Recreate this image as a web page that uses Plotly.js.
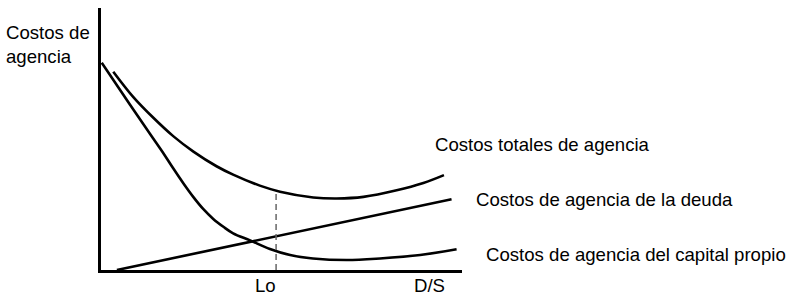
<!DOCTYPE html>
<html>
<head>
<meta charset="utf-8">
<script src="https://cdn.plot.ly/plotly-3.0.1.min.js"></script>
<style>html,body{margin:0;padding:0;background:#fff;}#chart{width:790px;height:297px;}</style>
</head>
<body>
<div id="chart"></div>
<script>
// Costos de agencia del capital propio (equity agency costs)
const equityX = [0.02, 0.80, 1.36, 1.75, 2.00, 2.28, 2.56, 2.83, 3.11, 3.39, 3.66, 4.13, 4.68, 5.24, 5.87, 6.81, 7.73, 8.84, 9.85];
const equityY = [7.91, 6.32, 5.19, 4.41, 3.88, 3.31, 2.78, 2.33, 1.95, 1.65, 1.40, 1.13, 0.80, 0.57, 0.44, 0.38, 0.44, 0.57, 0.79];
// Costos totales de agencia (total agency costs)
const totalX = [0.34, 0.89, 1.45, 2.00, 2.56, 3.20, 3.66, 4.40, 4.96, 5.88, 6.53, 7.27, 8.19, 8.93, 9.50];
const totalY = [7.57, 6.61, 5.81, 5.11, 4.52, 3.96, 3.64, 3.22, 2.99, 2.77, 2.73, 2.79, 3.04, 3.32, 3.62];
// Costos de agencia de la deuda (debt agency costs)
const debtX = [0.44, 9.71];
const debtY = [0.0, 2.70];
// Optimal leverage Lo
const optX = [4.85, 4.85];
const optY = [0, 3.03];
// Tick labels on the horizontal axis
const tickLabels = ['0', 'Lo', 'D/S'];
const tickPos = [-0.22, 4.55, 9.1];
// Curve labels (paper coordinates)
const curveLabels = ['Costos totales de agencia', 'Costos de agencia de la deuda', 'Costos de agencia del capital propio'];
const curveLabelX = [0.9195, 1.034, 1.061];
const curveLabelY = [4.79, 2.70, 0.61];
const yTitle = 'Costos de<br>agencia';

const font = {family: 'Liberation Sans, Arial, sans-serif', size: 18.6, color: '#000'};
const lineStyle = {color: '#000', width: 2.6, shape: 'spline', smoothing: 1};

const traces = [
  {x: equityX, y: equityY, mode: 'lines', line: lineStyle, hoverinfo: 'skip'},
  {x: totalX, y: totalY, mode: 'lines', line: lineStyle, hoverinfo: 'skip'},
  {x: debtX, y: debtY, mode: 'lines', line: {color: '#000', width: 2.6}, hoverinfo: 'skip'},
  {x: optX, y: optY, mode: 'lines', line: {color: '#666', width: 1.5, dash: '6px,4px'}, hoverinfo: 'skip'}
];

const annotations = [];
tickLabels.forEach((t, i) => annotations.push({
  text: t, x: tickPos[i], xref: 'x', y: 0, yref: 'paper', yanchor: 'top', xanchor: 'center',
  yshift: -3, showarrow: false, font: font
}));
curveLabels.forEach((t, i) => annotations.push({
  text: t, x: curveLabelX[i], xref: 'paper', y: curveLabelY[i], yref: 'y', xanchor: 'left', yanchor: 'middle',
  showarrow: false, font: font
}));
annotations.push({
  text: yTitle, x: -0.268, xref: 'paper', y: 0.86, yref: 'paper', xanchor: 'left', yanchor: 'middle',
  align: 'left', showarrow: false, font: font
});

const layout = {
  width: 790, height: 297,
  margin: {l: 101, r: 328, t: 8, b: 27},
  paper_bgcolor: '#fff', plot_bgcolor: '#fff',
  showlegend: false,
  xaxis: {range: [0, 10], showgrid: false, zeroline: false, showticklabels: false, ticks: '',
          showline: true, linecolor: '#000', linewidth: 3},
  yaxis: {range: [0, 10], showgrid: false, zeroline: false, showticklabels: false, ticks: '',
          showline: true, linecolor: '#000', linewidth: 3},
  annotations: annotations,
  font: font
};

Plotly.newPlot('chart', traces, layout, {displayModeBar: false, staticPlot: true});
</script>
</body>
</html>
